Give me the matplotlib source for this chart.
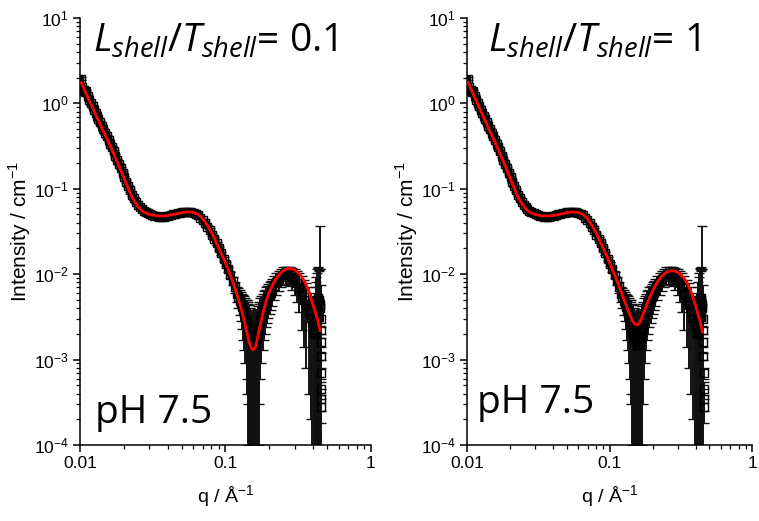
# SAXS curves at pH 7.5 with core-shell fits for two L_shell/T_shell ratios
import numpy as np
import matplotlib.pyplot as plt
from matplotlib.ticker import FixedLocator, FixedFormatter, LogLocator, NullFormatter

plt.rcParams['font.family'] = ['Liberation Sans', 'DejaVu Sans']
plt.rcParams['mathtext.fontset'] = 'custom'
plt.rcParams['mathtext.rm'] = 'Liberation Sans'
plt.rcParams['mathtext.it'] = 'Open Sans:italic'

# measured data (same sample in both panels): q, intensity, error
q_data = [0.0101, 0.0102, 0.0104, 0.0106, 0.0108, 0.0110, 0.0113, 0.0116, 0.0119, 0.0122,
          0.0125, 0.0128, 0.0131, 0.0134, 0.0137, 0.0141, 0.0145, 0.0149, 0.0153, 0.0157,
          0.0161, 0.0165, 0.0170, 0.0175, 0.0180, 0.0185, 0.0190, 0.0196, 0.0202, 0.0208,
          0.0214, 0.0220, 0.0227, 0.0234, 0.0241, 0.0249, 0.0257, 0.0265, 0.0274, 0.0283,
          0.0293, 0.0303, 0.0314, 0.0325, 0.0337, 0.0349, 0.0362, 0.0375, 0.0389, 0.0404,
          0.0419, 0.0435, 0.0451, 0.0468, 0.0485, 0.0503, 0.0522, 0.0541, 0.0561, 0.0582,
          0.0604, 0.0626, 0.0649, 0.0673, 0.0698, 0.0724, 0.0751, 0.0779, 0.0808, 0.0838,
          0.0869, 0.0901, 0.0934, 0.0969, 0.1005, 0.1042, 0.1081, 0.1121, 0.1163, 0.1206,
          0.1228, 0.1251, 0.1274, 0.1297, 0.1321, 0.1345, 0.1370, 0.1395, 0.1408, 0.1420,
          0.1434, 0.1447, 0.1460, 0.1473, 0.1487, 0.1500, 0.1514, 0.1528, 0.1542, 0.1556,
          0.1570, 0.1585, 0.1599, 0.1614, 0.1628, 0.1643, 0.1658, 0.1673, 0.1688, 0.1704,
          0.1735, 0.1767, 0.1800, 0.1833, 0.1866, 0.1900, 0.1935, 0.1971, 0.2007, 0.2044,
          0.2081, 0.2158, 0.2238, 0.2321, 0.2407, 0.2496, 0.2588, 0.2684, 0.2783, 0.2886,
          0.2993, 0.3104, 0.3219, 0.3338, 0.3461, 0.3589, 0.3722, 0.3860, 0.3950, 0.4030,
          0.4065, 0.4100, 0.4130, 0.4160, 0.4190, 0.4220, 0.4250, 0.4280, 0.4310, 0.4340,
          0.4365, 0.4390, 0.4430, 0.4450, 0.4470, 0.4500, 0.4530, 0.4535, 0.4540, 0.4545,
          0.4550, 0.4555, 0.4560]
I_data = [1.95, 1.45, 1.55, 1.45, 1.35, 1.38, 1.22, 1.10, 1.00, 0.92,
          0.84, 0.77, 0.71, 0.65, 0.60, 0.545, 0.495, 0.45, 0.41, 0.37,
          0.335, 0.305, 0.275, 0.245, 0.218, 0.195, 0.175, 0.155, 0.137, 0.121,
          0.108, 0.096, 0.085, 0.077, 0.070, 0.065, 0.061, 0.058, 0.055, 0.053,
          0.0515, 0.050, 0.049, 0.048, 0.0475, 0.047, 0.047, 0.047, 0.0475, 0.048,
          0.049, 0.050, 0.051, 0.052, 0.0525, 0.053, 0.0535, 0.054, 0.054, 0.0535,
          0.0525, 0.051, 0.049, 0.046, 0.043, 0.040, 0.036, 0.033, 0.029, 0.026,
          0.023, 0.020, 0.0175, 0.0152, 0.0132, 0.0114, 0.0098, 0.0083, 0.0070, 0.0059,
          0.0054, 0.0049, 0.0045, 0.0041, 0.0037, 0.0034, 0.0031, 0.0028, 0.0027, 0.0025,
          0.0023, 0.0022, 0.0021, 0.0019, 0.0018, 0.0017, 0.0017, 0.0016, 0.0016, 0.0015,
          0.0015, 0.0015, 0.0016, 0.0016, 0.0017, 0.0018, 0.0019, 0.0021, 0.0023, 0.0025,
          0.0029, 0.0032, 0.0036, 0.0040, 0.0043, 0.0047, 0.0050, 0.0054, 0.0057, 0.0061,
          0.0065, 0.0073, 0.0080, 0.0087, 0.0093, 0.0097, 0.0099, 0.0099, 0.0097, 0.0092,
          0.0086, 0.0078, 0.0069, 0.0059, 0.0050, 0.0043, 0.0037, 0.0031, 0.0027, 0.0023,
          0.0021, 0.0020, 0.0022, 0.0030, 0.0036, 0.0042, 0.0046, 0.0050, 0.0052, 0.0052,
          0.0050, 0.0048, 0.0045, 0.0042, 0.0040, 0.0030, 0.0022, 0.0016, 0.0011, 0.0007,
          0.00045, 0.00035, 0.00028]
err_data = [0.08, 0.06, 0.06, 0.05, 0.05, 0.05, 0.04, 0.04, 0.035, 0.03,
            0.03, 0.025, 0.025, 0.02, 0.02, 0.02, 0.018, 0.016, 0.015, 0.013,
            0.012, 0.011, 0.010, 0.009, 0.008, 0.007, 0.006, 0.0055, 0.005, 0.0045,
            0.004, 0.0035, 0.003, 0.003, 0.0025, 0.0022, 0.002, 0.002, 0.0018, 0.0018,
            0.0017, 0.0017, 0.0016, 0.0016, 0.0016, 0.0016, 0.0016, 0.0016, 0.0016, 0.0016,
            0.0016, 0.0016, 0.0017, 0.0017, 0.0017, 0.0017, 0.0018, 0.0018, 0.0018, 0.0018,
            0.0018, 0.0018, 0.0017, 0.0017, 0.0016, 0.0015, 0.0014, 0.0013, 0.0012, 0.0011,
            0.0010, 0.0009, 0.0009, 0.0008, 0.0008, 0.0008, 0.0008, 0.0009, 0.0010, 0.0012,
            0.0014, 0.0016, 0.0017, 0.0018, 0.0020, 0.0021, 0.0022, 0.0022, 0.0023, 0.0022,
            0.0022, 0.0022, 0.0022, 0.0021, 0.0020, 0.0019, 0.0019, 0.0019, 0.0019, 0.0019,
            0.0019, 0.0019, 0.0019, 0.0019, 0.0019, 0.0019, 0.0020, 0.0021, 0.0022, 0.0022,
            0.0023, 0.0023, 0.0023, 0.0023, 0.0023, 0.0023, 0.0023, 0.0023, 0.0023, 0.0023,
            0.0023, 0.0023, 0.0023, 0.0023, 0.0023, 0.0023, 0.0023, 0.0024, 0.0025, 0.0027,
            0.0029, 0.0031, 0.0033, 0.0037, 0.0036, 0.0035, 0.0033, 0.0029, 0.0028, 0.0026,
            0.0025, 0.0024, 0.0030, 0.0040, 0.0045, 0.0050, 0.0058, 0.0065, 0.0066, 0.0068,
            0.0063, 0.0060, 0.0322, 0.0072, 0.0075, 0.0045, 0.0002, 0.0002, 0.0001, 0.0001,
            0.0001, 0.0001, 0.0001]

# model fits
q_fit = [0.0102, 0.0110, 0.0120, 0.0130, 0.0140, 0.0155, 0.0170, 0.0185, 0.0200, 0.0215,
         0.0230, 0.0250, 0.0270, 0.0300, 0.0330, 0.0360, 0.0400, 0.0450, 0.0500, 0.0550,
         0.0600, 0.0650, 0.0700, 0.0750, 0.0800, 0.0850, 0.0900, 0.0950, 0.1000, 0.1050,
         0.1100, 0.1150, 0.1200, 0.1250, 0.1300, 0.1350, 0.1400, 0.1450, 0.1500, 0.1550,
         0.1600, 0.1650, 0.1700, 0.1800, 0.1900, 0.2000, 0.2150, 0.2300, 0.2500, 0.2700,
         0.2900, 0.3100, 0.3300, 0.3500, 0.3700, 0.3900, 0.4100, 0.4300, 0.4460]
I_fit_01 = [1.75, 1.30, 0.95, 0.70, 0.53, 0.37, 0.26, 0.185, 0.135, 0.100,
            0.077, 0.062, 0.054, 0.050, 0.0485, 0.048, 0.0485, 0.0505, 0.0525, 0.0535,
            0.0530, 0.0500, 0.0445, 0.0375, 0.0310, 0.0250, 0.0200, 0.0165, 0.0135, 0.0110,
            0.0090, 0.0072, 0.0058, 0.0046, 0.0036, 0.0028, 0.0021, 0.0016, 0.00138, 0.00130,
            0.00138, 0.0017, 0.0022, 0.0034, 0.0048, 0.0062, 0.0080, 0.0096, 0.0110, 0.0117,
            0.0115, 0.0107, 0.0096, 0.0082, 0.0066, 0.0050, 0.0038, 0.0029, 0.0022]
I_fit_1 = [1.75, 1.30, 0.95, 0.70, 0.53, 0.37, 0.26, 0.185, 0.135, 0.100,
           0.077, 0.062, 0.054, 0.050, 0.0485, 0.048, 0.0485, 0.0505, 0.0525, 0.0535,
           0.0530, 0.0500, 0.0445, 0.0375, 0.0310, 0.0250, 0.0200, 0.0165, 0.0135, 0.0111,
           0.0092, 0.0076, 0.0063, 0.0052, 0.0044, 0.0037, 0.0032, 0.0028, 0.0026, 0.00255,
           0.0026, 0.0029, 0.0033, 0.0042, 0.0053, 0.0064, 0.0080, 0.0094, 0.0105, 0.0110,
           0.0108, 0.0101, 0.0091, 0.0078, 0.0063, 0.0049, 0.0037, 0.0028, 0.0021]

ratio_labels = ['0.1', '1']
fits = [I_fit_01, I_fit_1]
ph_pos = [(0.052, 0.052), (0.034, 0.075)]
title_x = [0.045, 0.072]

q_arr = np.array(q_data)
I_arr = np.array(I_data)
main = q_arr <= 0.45   # trailing stack of points is drawn as markers only

fig = plt.figure(figsize=(7.59, 5.21), dpi=100)
axes = [fig.add_axes([0.1054, 0.1459, 0.3834, 0.8196]),
        fig.add_axes([0.6153, 0.1459, 0.376, 0.8196])]

for i, ax in enumerate(axes):
    ax.plot(q_arr[main], I_arr[main], color='k', lw=5, zorder=1)
    ax.errorbar(q_data, I_data, yerr=err_data, fmt='s', mfc='none', mec='k', mew=1.0,
                ms=6, ecolor='#111111', elinewidth=1.4, capsize=3.5, capthick=1.0, zorder=2)
    ax.plot(q_fit, fits[i], color='red', lw=2, zorder=3)
    ax.set_xscale('log')
    ax.set_yscale('log')
    ax.set_xlim(0.01, 1)
    ax.set_ylim(1e-4, 10)
    for s in ['top', 'right']:
        ax.spines[s].set_visible(False)
    for s in ['left', 'bottom']:
        ax.spines[s].set_linewidth(1.1)
    ax.xaxis.set_major_locator(FixedLocator([0.01, 0.1, 1]))
    ax.xaxis.set_major_formatter(FixedFormatter(['0.01', '0.1', '1']))
    ax.xaxis.set_minor_locator(LogLocator(base=10, subs=np.arange(2, 10)))
    ax.xaxis.set_minor_formatter(NullFormatter())
    ax.yaxis.set_major_locator(LogLocator(base=10, numticks=10))
    ax.yaxis.set_minor_locator(LogLocator(base=10, subs=np.arange(2, 10), numticks=10))
    ax.yaxis.set_minor_formatter(NullFormatter())
    ax.tick_params(which='major', direction='out', length=5, width=1.1, labelsize=12.5, pad=3)
    ax.tick_params(which='minor', direction='out', length=3, width=0.9)
    ax.set_xlabel('q / Å$^{-1}$', fontsize=14, labelpad=9)
    ax.set_ylabel('Intensity / cm$^{-1}$', fontsize=15, labelpad=0.5)
    ax.text(title_x[i], 0.92, r'$L_{shell}$/$T_{shell}$= ' + ratio_labels[i],
            transform=ax.transAxes, fontsize=28, family='Open Sans', va='baseline')
    ax.text(ph_pos[i][0], ph_pos[i][1], 'pH 7.5', transform=ax.transAxes,
            fontsize=28, family='Open Sans', va='baseline')

fig.savefig('out.png', dpi=100)
